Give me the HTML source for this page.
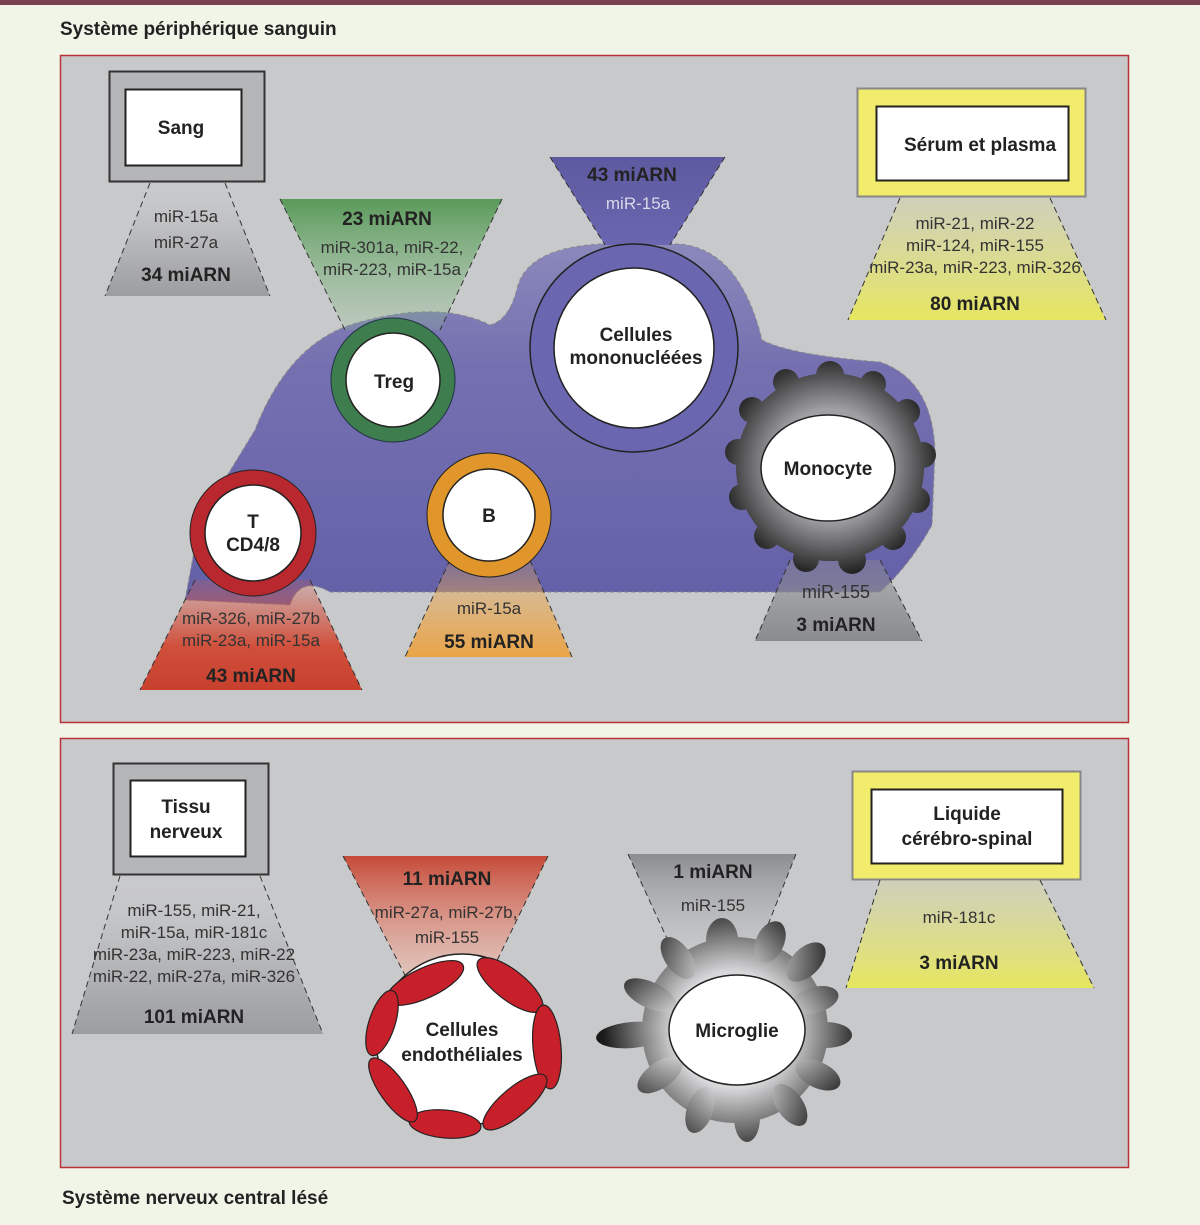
<!DOCTYPE html>
<html><head><meta charset="utf-8"><style>
html,body{margin:0;padding:0;background:#f0f5e8}
svg{display:block}
text{font-family:"Liberation Sans Narrow","Liberation Sans",sans-serif;fill:#222}
.b{font-weight:bold;font-size:19px}
.r{font-size:17px;fill:#333}
</style></head><body>
<svg width="1200" height="1225" viewBox="0 0 1200 1225" xmlns="http://www.w3.org/2000/svg">
<defs>
<linearGradient id="gGray" x1="0" y1="0" x2="0" y2="1"><stop offset="0" stop-color="#c8c9cb" stop-opacity="0"/><stop offset="0.5" stop-color="#b8b9bb"/><stop offset="1" stop-color="#9c9da0"/></linearGradient>
<linearGradient id="gYel" x1="0" y1="0" x2="0" y2="1"><stop offset="0" stop-color="#e8e878" stop-opacity="0.2"/><stop offset="1" stop-color="#e6e660"/></linearGradient>
<linearGradient id="gRedUp" x1="0" y1="0" x2="0" y2="1"><stop offset="0" stop-color="#d55a48" stop-opacity="0.2"/><stop offset="0.6" stop-color="#d0503c"/><stop offset="1" stop-color="#c8402e"/></linearGradient>
<linearGradient id="gOr" x1="0" y1="0" x2="0" y2="1"><stop offset="0" stop-color="#eaa850" stop-opacity="0.2"/><stop offset="1" stop-color="#e9a448"/></linearGradient>
<linearGradient id="gGrey2" x1="0" y1="0" x2="0" y2="1"><stop offset="0" stop-color="#8c8d90" stop-opacity="0.4"/><stop offset="1" stop-color="#8a8b8e"/></linearGradient>
<linearGradient id="gGreen" x1="0" y1="0" x2="0" y2="1"><stop offset="0" stop-color="#5a9a5a"/><stop offset="1" stop-color="#8cc08c" stop-opacity="0.2"/></linearGradient>
<linearGradient id="gPur" x1="0" y1="0" x2="0" y2="1"><stop offset="0" stop-color="#5e5aa0"/><stop offset="1" stop-color="#6a66b0"/></linearGradient>
<linearGradient id="gRedDn" x1="0" y1="0" x2="0" y2="1"><stop offset="0" stop-color="#c64a38"/><stop offset="1" stop-color="#f0c0b0" stop-opacity="0.6"/></linearGradient>
<linearGradient id="gGrayDn" x1="0" y1="0" x2="0" y2="1"><stop offset="0" stop-color="#8c8d90"/><stop offset="1" stop-color="#c0c1c3" stop-opacity="0.4"/></linearGradient>
<linearGradient id="gBlob" x1="0" y1="0" x2="0" y2="1"><stop offset="0" stop-color="#8a88bb"/><stop offset="0.35" stop-color="#7470b0"/><stop offset="1" stop-color="#6460a8"/></linearGradient>
<radialGradient id="gMono" gradientUnits="userSpaceOnUse" cx="830" cy="465" r="112"><stop offset="0.5" stop-color="#a0a0a4"/><stop offset="1" stop-color="#1e1e1e"/></radialGradient>
<radialGradient id="gMic" gradientUnits="userSpaceOnUse" cx="733" cy="1030" r="130"><stop offset="0.45" stop-color="#d8d8da"/><stop offset="1" stop-color="#1a1a1a"/></radialGradient>
</defs>
<rect x="0" y="0" width="1200" height="5" fill="#7a4050"/>
<text x="60" y="35" class="b">Système périphérique sanguin</text>
<text x="62" y="1204" class="b">Système nerveux central lésé</text>
<rect x="60.5" y="55.5" width="1068" height="667" fill="#c8c9cb" stroke="#b83038" stroke-width="1.5"/>
<rect x="60.5" y="738.5" width="1068" height="429" fill="#c8c9cb" stroke="#b83038" stroke-width="1.5"/>

<path d="M185,600 L200,520 L255,430 Q290,340 360,322 Q440,300 490,325 Q510,320 518,285 Q530,248 600,244 L680,244 Q740,250 762,340 Q790,355 880,362 Q932,380 935,450 L932,525 Q910,565 880,592 L330,592 Q300,575 290,605 Z" fill="url(#gBlob)" stroke="#888" stroke-dasharray="4,3"/>

<rect x="109.5" y="71.5" width="155" height="110" fill="#b5b6b8" stroke="#333" stroke-width="2"/>
<rect x="125.5" y="89.5" width="116" height="76" fill="#fff" stroke="#222" stroke-width="2"/>
<text x="181" y="134" class="b" text-anchor="middle">Sang</text>
<path d="M150,183 L225,183 L270,296 L105,296 Z" fill="url(#gGray)"/>
<path d="M150,183 L105,296 M225,183 L270,296" stroke="#333" stroke-dasharray="6,4"/>
<text x="186" y="222" class="r" text-anchor="middle">miR-15a</text>
<text x="186" y="248" class="r" text-anchor="middle">miR-27a</text>
<text x="186" y="281" class="b" text-anchor="middle">34 miARN</text>

<path d="M280,199 L502,199 L440,330 L345,330 Z" fill="url(#gGreen)"/>
<path d="M280,199 L345,330 M502,199 L440,330" stroke="#333" stroke-dasharray="6,4"/>
<text x="387" y="225" class="b" text-anchor="middle">23 miARN</text>
<text x="392" y="253" class="r" text-anchor="middle">miR-301a, miR-22,</text>
<text x="392" y="275" class="r" text-anchor="middle">miR-223, miR-15a</text>
<circle cx="393" cy="380" r="62" fill="#3e7e4e" stroke="#234" stroke-width="1"/>
<circle cx="393" cy="380" r="47" fill="#fff" stroke="#222" stroke-width="1.5"/>
<text x="394" y="388" class="b" text-anchor="middle">Treg</text>

<path d="M550,157 L725,157 L670,245 L605,245 Z" fill="url(#gPur)"/>
<path d="M550,157 L605,245 M725,157 L670,245" stroke="#333" stroke-dasharray="6,4"/>
<text x="632" y="181" class="b" text-anchor="middle">43 miARN</text>
<text x="638" y="209" class="r" text-anchor="middle" style="fill:#d8d8e8">miR-15a</text>
<circle cx="634" cy="348" r="104" fill="#6a66b0" stroke="#222" stroke-width="1.5"/>
<circle cx="634" cy="348" r="80" fill="#fff" stroke="#222" stroke-width="1.5"/>
<text x="636" y="341" class="b" text-anchor="middle">Cellules</text>
<text x="636" y="364" class="b" text-anchor="middle">mononucléées</text>

<rect x="857.5" y="88.5" width="228" height="108" fill="#f2ec6c" stroke="#888" stroke-width="2"/>
<rect x="876.5" y="106.5" width="192" height="74" fill="#fff" stroke="#222" stroke-width="2"/>
<text x="980" y="151" class="b" text-anchor="middle">Sérum et plasma</text>
<path d="M900,198 L1050,198 L1106,320 L848,320 Z" fill="url(#gYel)"/>
<path d="M900,198 L848,320 M1050,198 L1106,320" stroke="#333" stroke-dasharray="6,4"/>
<text x="975" y="229" class="r" text-anchor="middle">miR-21, miR-22</text>
<text x="975" y="251" class="r" text-anchor="middle">miR-124, miR-155</text>
<text x="975" y="273" class="r" text-anchor="middle">miR-23a, miR-223, miR-326</text>
<text x="975" y="310" class="b" text-anchor="middle">80 miARN</text>

<path d="M195,580 L310,580 L362,690 L140,690 Z" fill="url(#gRedUp)"/>
<path d="M195,580 L140,690 M310,580 L362,690" stroke="#333" stroke-dasharray="6,4"/>
<circle cx="253" cy="533" r="63" fill="#b8282e" stroke="#222"/>
<circle cx="253" cy="533" r="48" fill="#fff" stroke="#222" stroke-width="1.5"/>
<text x="253" y="528" class="b" text-anchor="middle">T</text>
<text x="253" y="551" class="b" text-anchor="middle">CD4/8</text>
<text x="251" y="624" class="r" text-anchor="middle">miR-326, miR-27b</text>
<text x="251" y="646" class="r" text-anchor="middle">miR-23a, miR-15a</text>
<text x="251" y="682" class="b" text-anchor="middle">43 miARN</text>

<path d="M450,560 L530,560 L572,657 L405,657 Z" fill="url(#gOr)"/>
<path d="M450,560 L405,657 M530,560 L572,657" stroke="#333" stroke-dasharray="6,4"/>
<circle cx="489" cy="515" r="62" fill="#e0962a" stroke="#222"/>
<circle cx="489" cy="515" r="46" fill="#fff" stroke="#222" stroke-width="1.5"/>
<text x="489" y="522" class="b" text-anchor="middle">B</text>
<text x="489" y="614" class="r" text-anchor="middle">miR-15a</text>
<text x="489" y="648" class="b" text-anchor="middle">55 miARN</text>

<path d="M790,560 L880,560 L922,641 L755,641 Z" fill="url(#gGrey2)"/>
<path d="M790,560 L755,641 M880,560 L922,641" stroke="#333" stroke-dasharray="6,4"/>
<g fill="url(#gMono)">
<circle cx="830" cy="467" r="94"/>
<circle cx="830" cy="375" r="14"/><circle cx="873" cy="384" r="13"/><circle cx="907" cy="412" r="13"/><circle cx="923" cy="455" r="13"/>
<circle cx="917" cy="500" r="13"/><circle cx="893" cy="537" r="13"/><circle cx="852" cy="560" r="14"/><circle cx="806" cy="559" r="13"/>
<circle cx="767" cy="536" r="13"/><circle cx="742" cy="497" r="13"/><circle cx="738" cy="452" r="13"/><circle cx="752" cy="410" r="13"/><circle cx="786" cy="382" r="13"/>
</g>
<ellipse cx="828" cy="468" rx="67" ry="53" fill="#fff" stroke="#222" stroke-width="1.5"/>
<text x="828" y="475" class="b" text-anchor="middle">Monocyte</text>
<text x="836" y="598" class="r" text-anchor="middle" style="font-size:18px">miR-155</text>
<text x="836" y="631" class="b" text-anchor="middle">3 miARN</text>

<rect x="113.5" y="763.5" width="155" height="111" fill="#b5b6b8" stroke="#333" stroke-width="2"/>
<rect x="130.5" y="780.5" width="115" height="76" fill="#fff" stroke="#222" stroke-width="2"/>
<text x="186" y="813" class="b" text-anchor="middle">Tissu</text>
<text x="186" y="838" class="b" text-anchor="middle">nerveux</text>
<path d="M120,876 L260,876 L323,1034 L72,1034 Z" fill="url(#gGray)"/>
<path d="M120,876 L72,1034 M260,876 L323,1034" stroke="#333" stroke-dasharray="6,4"/>
<text x="194" y="916" class="r" text-anchor="middle">miR-155, miR-21,</text>
<text x="194" y="938" class="r" text-anchor="middle">miR-15a, miR-181c</text>
<text x="194" y="960" class="r" text-anchor="middle">miR-23a, miR-223, miR-22</text>
<text x="194" y="982" class="r" text-anchor="middle">miR-22, miR-27a, miR-326</text>
<text x="194" y="1023" class="b" text-anchor="middle">101 miARN</text>

<path d="M343,856 L548,856 L490,975 L405,975 Z" fill="url(#gRedDn)"/>
<path d="M343,856 L405,975 M548,856 L490,975" stroke="#333" stroke-dasharray="6,4"/>
<text x="447" y="885" class="b" text-anchor="middle">11 miARN</text>
<text x="446" y="918" class="r" text-anchor="middle">miR-27a, miR-27b,</text>
<text x="447" y="943" class="r" text-anchor="middle">miR-155</text>
<circle cx="462" cy="1040" r="86" fill="#fff" stroke="#222" stroke-width="1.5"/>
<g fill="#c8202a" stroke="#222" stroke-width="1.2">
<ellipse cx="425" cy="983" rx="42" ry="15" transform="rotate(-25 425 983)"/>
<ellipse cx="510" cy="985" rx="40" ry="15" transform="rotate(38 510 985)"/>
<ellipse cx="547" cy="1047" rx="42" ry="14" transform="rotate(85 547 1047)"/>
<ellipse cx="515" cy="1102" rx="40" ry="14" transform="rotate(-40 515 1102)"/>
<ellipse cx="445" cy="1124" rx="36" ry="14" transform="rotate(5 445 1124)"/>
<ellipse cx="393" cy="1090" rx="38" ry="13" transform="rotate(55 393 1090)"/>
<ellipse cx="382" cy="1023" rx="34" ry="13" transform="rotate(-72 382 1023)"/>
</g>
<text x="462" y="1036" class="b" text-anchor="middle">Cellules</text>
<text x="462" y="1061" class="b" text-anchor="middle">endothéliales</text>

<path d="M628,854 L796,854 L760,945 L670,945 Z" fill="url(#gGrayDn)"/>
<path d="M628,854 L670,945 M796,854 L760,945" stroke="#333" stroke-dasharray="6,4"/>
<text x="713" y="878" class="b" text-anchor="middle">1 miARN</text>
<text x="713" y="911" class="r" text-anchor="middle">miR-155</text>
<g fill="url(#gMic)">
<circle cx="735" cy="1030" r="93"/>
<ellipse cx="722" cy="940" rx="16" ry="22"/>
<ellipse cx="770" cy="942" rx="14" ry="22" transform="rotate(25 770 942)"/>
<ellipse cx="806" cy="962" rx="14" ry="24" transform="rotate(45 806 962)"/>
<ellipse cx="815" cy="1000" rx="24" ry="13" transform="rotate(-15 815 1000)"/>
<ellipse cx="826" cy="1035" rx="26" ry="13"/>
<ellipse cx="818" cy="1075" rx="24" ry="13" transform="rotate(25 818 1075)"/>
<ellipse cx="790" cy="1105" rx="13" ry="24" transform="rotate(-35 790 1105)"/>
<ellipse cx="747" cy="1118" rx="13" ry="24"/>
<ellipse cx="700" cy="1110" rx="13" ry="24" transform="rotate(20 700 1110)"/>
<ellipse cx="660" cy="1075" rx="26" ry="13" transform="rotate(-35 660 1075)"/>
<ellipse cx="632" cy="1035" rx="36" ry="13" transform="rotate(-5 632 1035)"/>
<ellipse cx="650" cy="995" rx="28" ry="13" transform="rotate(25 650 995)"/>
<ellipse cx="678" cy="958" rx="13" ry="24" transform="rotate(-35 678 958)"/>
</g>
<ellipse cx="737" cy="1030" rx="68" ry="55" fill="#fff" stroke="#222" stroke-width="1.5"/>
<text x="737" y="1037" class="b" text-anchor="middle">Microglie</text>

<rect x="852.5" y="771.5" width="228" height="108" fill="#f2ec6c" stroke="#888" stroke-width="2"/>
<rect x="871.5" y="789.5" width="191" height="74" fill="#fff" stroke="#222" stroke-width="2"/>
<text x="967" y="820" class="b" text-anchor="middle">Liquide</text>
<text x="967" y="845" class="b" text-anchor="middle">cérébro-spinal</text>
<path d="M880,880 L1040,880 L1094,988 L846,988 Z" fill="url(#gYel)"/>
<path d="M880,880 L846,988 M1040,880 L1094,988" stroke="#333" stroke-dasharray="6,4"/>
<text x="959" y="923" class="r" text-anchor="middle">miR-181c</text>
<text x="959" y="969" class="b" text-anchor="middle">3 miARN</text>
</svg>
</body></html>
